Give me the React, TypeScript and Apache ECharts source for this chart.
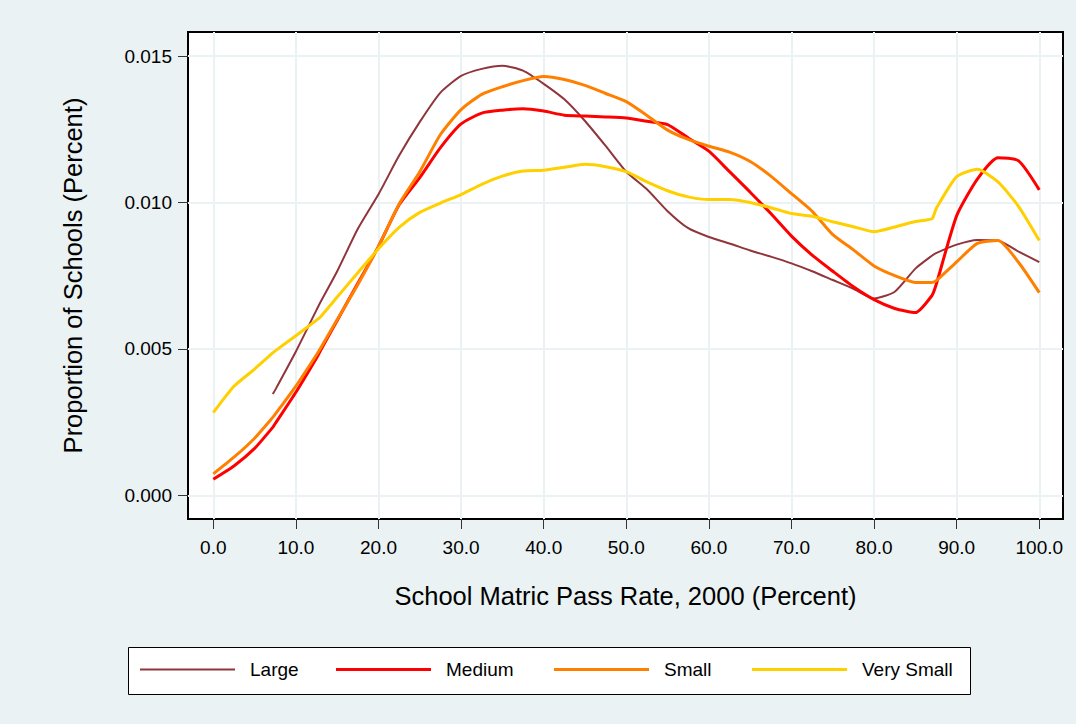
import React, { useEffect, useRef } from "react";
import * as echarts from "echarts";

// School matric pass rate (percent) at which densities were read
const passRate = [0, 2.5, 5, 7.2, 7.5, 10, 12.5, 13, 15, 17.5, 20, 22.5, 25, 27.5, 30, 32.5, 35, 37.5, 40, 42.5, 45, 47.5, 50, 52.5, 55, 57.5, 60, 62.5, 65, 67.5, 70, 72.5, 75, 77.5, 80, 82.5, 85, 87, 87.5, 90, 92.5, 95, 97.5, 100];

const large = [null, null, null, 0.00346, 0.0036, 0.00491, 0.00633, 0.00661, 0.00765, 0.0091, 0.01028, 0.0116, 0.01275, 0.01375, 0.01432, 0.01456, 0.01467, 0.0145, 0.01405, 0.01352, 0.01278, 0.01193, 0.01105, 0.01045, 0.0097, 0.00912, 0.00882, 0.0086, 0.00836, 0.00815, 0.00792, 0.00765, 0.00735, 0.00705, 0.00672, 0.00695, 0.00774, 0.00818, 0.00827, 0.00856, 0.00872, 0.0087, 0.00832, 0.00796];
const medium = [0.00055, 0.001, 0.0016, 0.00232, 0.00245, 0.00352, 0.00469, 0.00495, 0.00597, 0.00724, 0.0085, 0.00992, 0.01085, 0.01187, 0.01268, 0.01305, 0.01315, 0.0132, 0.01312, 0.01298, 0.01295, 0.01292, 0.01288, 0.01277, 0.01266, 0.0122, 0.01175, 0.01105, 0.01035, 0.00962, 0.00885, 0.0082, 0.00765, 0.00712, 0.00668, 0.00638, 0.00624, 0.00682, 0.00718, 0.00955, 0.0108, 0.01153, 0.01142, 0.01043];
const small = [0.00073, 0.0013, 0.00195, 0.00266, 0.00277, 0.00373, 0.0048, 0.00503, 0.006, 0.0072, 0.0085, 0.00995, 0.01105, 0.01232, 0.01317, 0.01369, 0.01395, 0.01416, 0.0143, 0.0142, 0.014, 0.01372, 0.01344, 0.01297, 0.01247, 0.01215, 0.01192, 0.01172, 0.0114, 0.0109, 0.0103, 0.0097, 0.0089, 0.00838, 0.00783, 0.0075, 0.00727, 0.00727, 0.00732, 0.00797, 0.0086, 0.0087, 0.00795, 0.00692];
const verySmall = [0.00282, 0.00372, 0.00431, 0.00486, 0.00493, 0.00545, 0.00598, 0.0061, 0.00677, 0.0076, 0.00842, 0.00915, 0.00966, 0.00998, 0.01027, 0.01062, 0.0109, 0.01107, 0.0111, 0.0112, 0.0113, 0.01122, 0.01105, 0.0107, 0.0104, 0.01019, 0.0101, 0.0101, 0.01, 0.00982, 0.00962, 0.00953, 0.00934, 0.00917, 0.009, 0.00916, 0.00935, 0.00944, 0.00978, 0.01088, 0.01113, 0.0107, 0.00986, 0.0087];

const seriesNames = ["Large", "Medium", "Small", "Very Small"];
const seriesValues = [large, medium, small, verySmall];
const seriesColors = ["#90353B", "#FF0000", "#FF8000", "#FFD000"];
const seriesWidths = [2, 3, 3, 3];

const xTicks = [0, 10, 20, 30, 40, 50, 60, 70, 80, 90, 100];
const yTicks = [0, 0.005, 0.01, 0.015];

const legendLeft = [140, 336, 554, 752];

const FONT = "'Liberation Sans', Arial, sans-serif";

export default function App() {
  const ref = useRef<HTMLDivElement>(null);

  useEffect(() => {
    if (!ref.current) return;
    const chart = echarts.init(ref.current, null, { renderer: "svg" });

    const series = seriesNames.map((name, s) => ({
      name,
      type: "line",
      symbol: "none",
      smooth: 0.2,
      connectNulls: false,
      color: seriesColors[s],
      lineStyle: { color: seriesColors[s], width: seriesWidths[s] },
      data: passRate.map((x, i) => [x, seriesValues[s][i]]),
    }));

    const legends = seriesNames.map((name, s) => ({
      data: [name],
      left: legendLeft[s],
      top: 660,
      padding: 0,
      icon: "rect",
      itemWidth: 95,
      itemHeight: seriesWidths[s],
      selectedMode: false,
      textStyle: { fontSize: 19, color: "#000", fontFamily: FONT, padding: [0, 0, 0, 10] },
    }));

    chart.setOption({
      animation: false,
      backgroundColor: "#EAF2F3",
      textStyle: { fontFamily: FONT },
      graphic: [
        {
          type: "rect",
          shape: { x: 128.5, y: 647.5, width: 842, height: 47 },
          style: { fill: "#fff", stroke: "#000", lineWidth: 1 },
          z: -10,
          silent: true,
        },
      ],
      legend: legends,
      grid: {
        left: 188,
        right: 13,
        top: 32,
        bottom: 205,
        show: true,
        backgroundColor: "#fff",
        borderColor: "#000",
        borderWidth: 2,
        containLabel: false,
      },
      xAxis: {
        type: "value",
        min: -3.063,
        max: 102.87,
        name: "School Matric Pass Rate, 2000 (Percent)",
        nameLocation: "middle",
        nameGap: 64,
        nameTextStyle: { fontSize: 25.5, color: "#000", fontFamily: FONT },
        axisLine: { show: false, onZero: false },
        axisTick: { show: true, customValues: xTicks, length: 10, lineStyle: { color: "#333", width: 1 } },
        axisLabel: {
          customValues: xTicks,
          margin: 19,
          fontSize: 19,
          color: "#000",
          fontFamily: FONT,
          formatter: (v: number) => v.toFixed(1),
        },
        splitLine: { show: true, lineStyle: { color: "#EAF2F3", width: 2 } },
      },
      yAxis: {
        type: "value",
        min: -0.00081,
        max: 0.01582,
        name: "Proportion of Schools (Percent)",
        nameLocation: "middle",
        nameGap: 102,
        nameTextStyle: { fontSize: 25.5, color: "#000", fontFamily: FONT },
        axisLine: { show: false, onZero: false },
        axisTick: { show: true, customValues: yTicks, length: 10, lineStyle: { color: "#333", width: 1 } },
        axisLabel: {
          customValues: yTicks,
          margin: 16,
          fontSize: 19,
          color: "#000",
          fontFamily: FONT,
          formatter: (v: number) => v.toFixed(3),
        },
        splitLine: { show: true, lineStyle: { color: "#EAF2F3", width: 2 } },
      },
      series,
    });

    return () => chart.dispose();
  }, []);

  return (
    <div
      ref={ref}
      style={{ position: "fixed", left: 0, top: 0, width: 1076, height: 724 }}
    />
  );
}
